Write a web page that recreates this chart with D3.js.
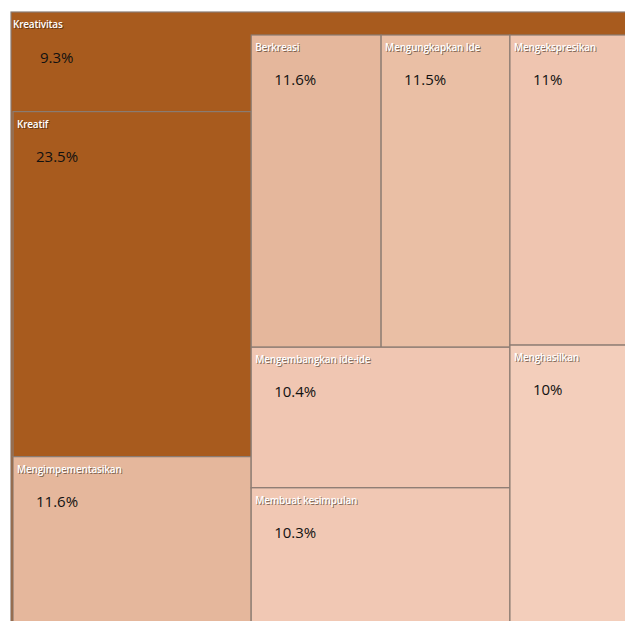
<!DOCTYPE html>
<html>
<head>
<meta charset="utf-8">
<script src="https://cdn.jsdelivr.net/npm/d3@7"></script>
<style>
  body { margin: 0; background: #fff; }
  svg { display: block; }
  .lbl, .shd { font-family: "Open Sans", sans-serif; font-size: 10px; font-weight: 600; letter-spacing: -0.2px; }
  .lbl { fill: #fff; }
  .shd { fill: rgba(40,25,15,0.55); }
  .val { font-family: "Open Sans", sans-serif; font-size: 15px; fill: #111; }
</style>
</head>
<body>
<script>
// group (the treemap's own header cell) and its share
var groupName = "Kreativitas";
var groupShare = 9.3;

// leaf cells and their shares (%)
var labels = ["Kreatif", "Mengimpementasikan", "Berkreasi", "Mengungkapkan Ide",
              "Mengekspresikan", "Mengembangkan ide-ide", "Membuat kesimpulan", "Menghasilkan"];
var shares = [23.5, 11.6, 11.6, 11.5, 11, 10.4, 10.3, 10];

// how the cells are grouped: columns -> rows -> cells
var columns = [
    [[groupName], ["Kreatif"], ["Mengimpementasikan"]],
    [["Berkreasi", "Mengungkapkan Ide"], ["Mengembangkan ide-ide"], ["Membuat kesimpulan"]],
    [["Mengekspresikan"], ["Menghasilkan"]]
];

var width = 625,
    height = 621,
    headH = 23;

var shareOf = {};
shareOf[groupName] = groupShare;
labels.forEach(function(l, i) { shareOf[l] = shares[i]; });

function leaf(name) { return { name: name, share: shareOf[name] }; }

var data = {
    name: groupName,
    children: columns.map(function(col) {
        return { children: col.map(function(row) {
            return row.length === 1 ? leaf(row[0]) : { children: row.map(leaf) };
        }) };
    })
};

var root = d3.hierarchy(data).sum(function(d) { return d.children ? 0 : d.share; });
var ownLeaf = root.leaves().find(function(d) { return d.data.name === groupName; });

// the header band counts as part of the group's own cell
var k, band;
function tile(node, x0, y0, x1, y1) {
    var x = x0, y = y0;
    if (node.depth === 0) {
        k = (x1 - x0) * (y1 - y0 + headH) / node.value;
        band = (x1 - x0) * headH;
        node.children.forEach(function(c) {
            var a = c.value * k - (c === ownLeaf.parent ? band : 0);
            c.x0 = x; x += a / (y1 - y0); c.x1 = x; c.y0 = y0; c.y1 = y1;
        });
    } else if (node.depth === 1) {
        node.children.forEach(function(c) {
            var a = c.value * k - (c === ownLeaf ? band : 0);
            c.y0 = y; y += a / (x1 - x0); c.y1 = y; c.x0 = x0; c.x1 = x1;
        });
    } else {
        d3.treemapDice(node, x0, y0, x1, y1);
    }
}

d3.treemap()
    .size([623, 615])
    .paddingTop(function(d) { return d.depth === 0 ? headH : 0; })
    .paddingLeft(function(d) { return d.depth === 0 ? 2 : 0; })
    .tile(tile)
    (root);

var color = d3.scaleLinear()
    .domain([10, 10.4, 11, 11.5, 11.6, 23.5])
    .range(["#F3CEBB", "#F0C6B2", "#EFC5B0", "#EABFA5", "#E5B79C", "#A85B1E"]);

var svg = d3.select("body").append("svg")
    .attr("width", width)
    .attr("height", height)
  .append("g")
    .attr("transform", "translate(11,12)");

svg.append("rect")
    .attr("x", root.x0)
    .attr("y", root.y0)
    .attr("width", root.x1 - root.x0)
    .attr("height", root.y1 - root.y0)
    .attr("fill", "#A85B1E")
    .attr("stroke", "#8a7b72")
    .attr("stroke-width", 1.2);

var cell = svg.selectAll("g.cell")
    .data(root.leaves())
  .enter().append("g")
    .attr("class", "cell")
    .attr("transform", function(d) { return "translate(" + d.x0 + "," + d.y0 + ")"; });

var others = cell.filter(function(d) { return d !== ownLeaf; });

others.append("rect")
    .attr("width", function(d) { return d.x1 - d.x0; })
    .attr("height", function(d) { return d.y1 - d.y0; })
    .attr("fill", function(d) { return color(d.data.share); })
    .attr("stroke", "#8a7b72")
    .attr("stroke-width", 1.2);

function addLabel(sel, x, y, txt) {
    sel.append("text").attr("class", "shd")
        .attr("x", x + 1).attr("y", y + 1).text(txt);
    sel.append("text").attr("class", "lbl")
        .attr("x", x).attr("y", y).text(txt);
}

others.each(function(d) { addLabel(d3.select(this), 4, 16, d.data.name); });

// group header label
addLabel(svg, root.x0 + 2, root.y0 + 16, groupName);

cell.append("text")
    .attr("class", "val")
    .attr("x", function(d) { return d === ownLeaf ? 27 : 23; })
    .attr("y", function(d) { return d === ownLeaf ? 46 - headH : 45; })
    .attr("dy", ".35em")
    .text(function(d) { return d.data.share + "%"; });
</script>
</body>
</html>
